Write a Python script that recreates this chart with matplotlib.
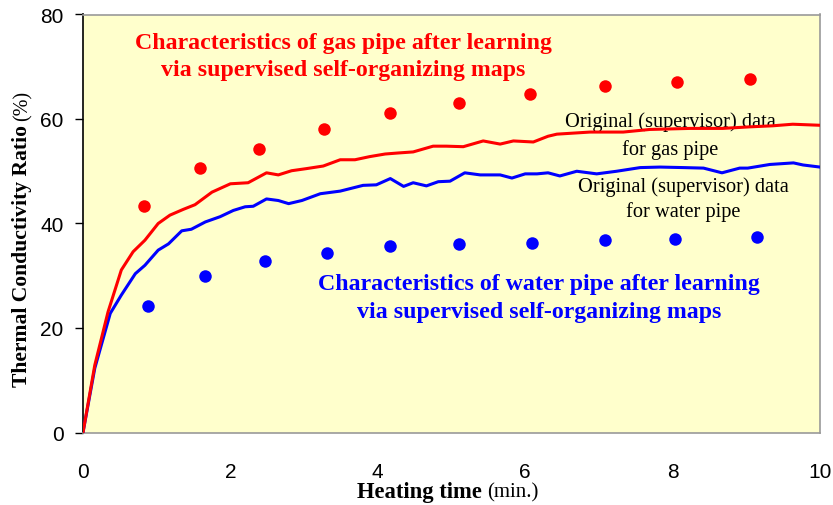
import numpy as np
import matplotlib
matplotlib.use("Agg")
import matplotlib.pyplot as plt

# supervisor (original) curves
gas_t = [0, 0.16, 0.34, 0.52, 0.68, 0.84, 1.02, 1.18, 1.36, 1.52, 1.75, 2.0, 2.24, 2.49, 2.65,
         2.83, 3.03, 3.26, 3.49, 3.69, 3.89, 4.10, 4.28, 4.48, 4.75, 4.93, 5.16, 5.43, 5.66,
         5.84, 6.11, 6.31, 6.43, 6.88, 7.33, 7.69, 8.24, 8.68, 9.05, 9.36, 9.63, 10.0]
gas_r = [0, 12.9, 23.1, 31.1, 34.6, 36.8, 40.0, 41.6, 42.7, 43.6, 46.0, 47.6, 47.8, 49.7, 49.3,
         50.1, 50.5, 51.0, 52.2, 52.2, 52.8, 53.3, 53.5, 53.7, 54.8, 54.8, 54.7, 55.8, 55.2,
         55.8, 55.6, 56.7, 57.1, 57.5, 57.5, 58.0, 58.2, 58.2, 58.5, 58.7, 59.0, 58.8]

water_t = [0, 0.16, 0.37, 0.52, 0.71, 0.84, 1.02, 1.16, 1.34, 1.47, 1.66, 1.86, 2.04, 2.20, 2.31,
           2.49, 2.65, 2.79, 2.97, 3.22, 3.49, 3.80, 3.98, 4.17, 4.35, 4.48, 4.66, 4.82, 4.98,
           5.18, 5.39, 5.66, 5.82, 6.0, 6.16, 6.31, 6.47, 6.70, 6.97, 7.24, 7.56, 7.83, 8.15,
           8.42, 8.67, 8.91, 9.02, 9.32, 9.64, 9.77, 10.0]
water_r = [0, 12.3, 22.8, 26.3, 30.4, 32.0, 34.9, 36.1, 38.6, 38.9, 40.3, 41.3, 42.5, 43.2, 43.3,
           44.7, 44.4, 43.8, 44.4, 45.7, 46.2, 47.3, 47.4, 48.6, 47.1, 47.8, 47.2, 48.0, 48.1,
           49.7, 49.3, 49.3, 48.7, 49.5, 49.5, 49.7, 49.1, 50.0, 49.5, 50.0, 50.7, 50.8, 50.7,
           50.6, 49.7, 50.6, 50.6, 51.3, 51.6, 51.2, 50.8]

# after learning (SOM output)
gas_som_t = [0.83, 1.59, 2.39, 3.27, 4.17, 5.10, 6.07, 7.08, 8.06, 9.05]
gas_som_r = [43.3, 50.6, 54.3, 58.1, 61.2, 63.1, 64.8, 66.4, 67.1, 67.7]
water_som_t = [0.88, 1.66, 2.47, 3.31, 4.17, 5.10, 6.09, 7.08, 8.03, 9.15]
water_som_r = [24.2, 30.0, 32.9, 34.4, 35.6, 36.0, 36.3, 36.8, 37.1, 37.5]

xticks = [0, 2, 4, 6, 8, 10]
yticks = [0, 20, 40, 60, 80]

serif = "Liberation Serif"
sans = "Liberation Sans"
W, H = 833, 506

fig = plt.figure(figsize=(W / 100, H / 100), dpi=100)
ax = fig.add_axes([83 / W, 1 - 433.5 / H, 737 / W, 418 / H])
ax.set_facecolor("#FFFFCC")

ax.plot(water_t, water_r, color="#0000FF", lw=2.2, zorder=3)
ax.plot(gas_t, gas_r, color="#FF0000", lw=2.2, zorder=4)
ax.plot(gas_som_t, gas_som_r, "o", color="#FF0000", ms=9, mec="none", zorder=5)
ax.plot(water_som_t, water_som_r, "o", color="#0000FF", ms=9, mec="none", zorder=5)

ax.set_xlim(0, 10)
ax.set_ylim(0, 80)
ax.set_xticks(xticks)
ax.set_yticks(yticks)
ax.tick_params(axis="x", length=0, pad=21, labelsize=15)
ax.tick_params(axis="y", length=6, width=1, direction="out", pad=8, labelsize=15)
for lab in ax.get_xticklabels() + ax.get_yticklabels():
    lab.set_family(sans)

ax.spines["left"].set_color("black")
ax.spines["left"].set_linewidth(1.2)
for s in ["top", "right", "bottom"]:
    ax.spines[s].set_color("#999999")
    ax.spines[s].set_linewidth(1.2)

ax.text(3.53, 72.1, "Characteristics of gas pipe after learning\nvia supervised self-organizing maps",
        color="#FF0000", fontsize=17.2, fontweight="bold", family=serif,
        ha="center", va="center", linespacing=1.4)
ax.text(6.19, 25.9, "Characteristics of water pipe after learning\nvia supervised self-organizing maps",
        color="#0000FF", fontsize=17.2, fontweight="bold", family=serif,
        ha="center", va="center", linespacing=1.45)
ax.text(7.97, 56.9, "Original (supervisor) data\nfor gas pipe", color="black",
        fontsize=14.7, family=serif, ha="center", va="center", linespacing=1.52)
ax.text(8.15, 44.8, "Original (supervisor) data\nfor water pipe", color="black",
        fontsize=14.7, family=serif, ha="center", va="center", linespacing=1.38)

# axis labels: bold part + regular unit part
fig.canvas.draw()
rend = fig.canvas.get_renderer()

xl1 = fig.text(357 / W, 1 - 493 / H, "Heating time", family=serif, fontweight="bold",
               fontsize=16.3, ha="left", va="center")
bb = xl1.get_window_extent(rend)
fig.text(bb.x1 / W + 5 / W, 1 - 493 / H, "(min.)", family=serif, fontsize=15,
         ha="left", va="center")

yl1 = fig.text(22 / W, 1 - 387 / H, "Thermal Conductivity Ratio", family=serif,
               fontweight="bold", fontsize=15.6, rotation=90, ha="center", va="bottom")
bb = yl1.get_window_extent(rend)
fig.text(23 / W, bb.y1 / H + 4 / H, "(%)", family=serif, fontsize=14.5, rotation=90,
         ha="center", va="bottom")

fig.savefig("out.png", dpi=100)
